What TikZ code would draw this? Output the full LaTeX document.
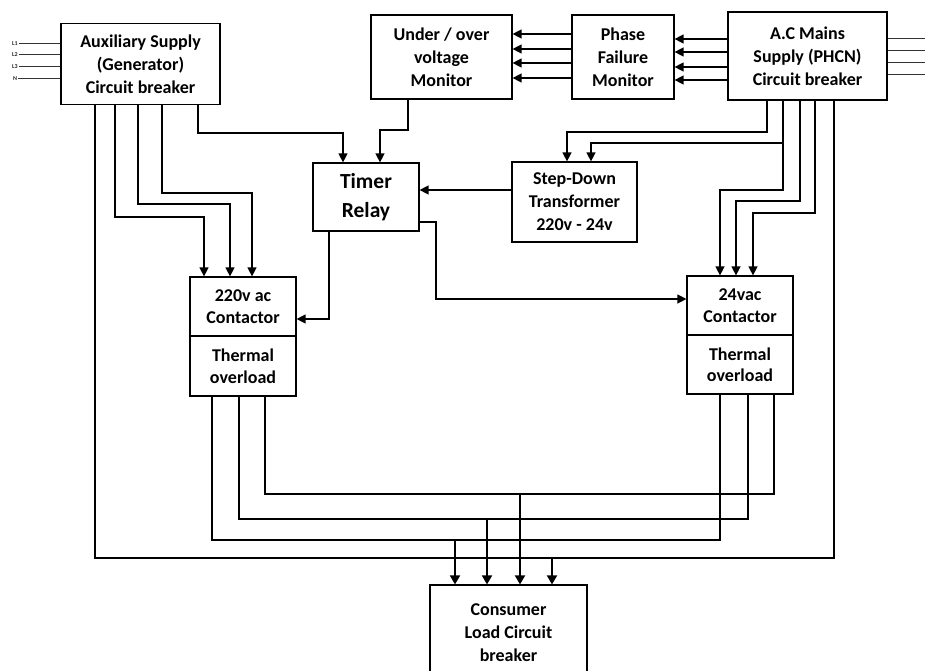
\documentclass[tikz,border=0pt]{standalone}
\usepackage{fontspec}
\setmainfont{Carlito}
\usetikzlibrary{arrows.meta}

\tikzset{
    box/.style={draw, line width=1.2pt, align=center, inner sep=0pt, font=\bfseries\fontsize{18}{23}\selectfont},
    wire/.style={line width=1.3pt},
    feed/.style={wire, -{Triangle[length=9pt, width=9pt]}},
    drop/.style={line width=2pt, -{Triangle[length=9pt, width=10pt]}},
    lead/.style={line width=1pt, black!80},
}

\begin{document}
\begin{tikzpicture}[x=1pt, y=-1pt]
    \useasboundingbox (0,0) rectangle (929,671);
    %Nodes
    \node[box, minimum width=159, minimum height=81] at (140.5, 64) (aux) {Auxiliary Supply\\(Generator)\\Circuit breaker};
    \node[box, minimum width=141, minimum height=84] at (441.5, 57) (uov) {Under / over\\voltage\\Monitor};
    \node[box, minimum width=102, minimum height=84] at (623, 57) (pfm) {Phase\\Failure\\Monitor};
    \node[box, minimum width=159, minimum height=88] at (807.5, 56) (acm) {A.C Mains\\Supply (PHCN)\\Circuit breaker};
    \node[box, minimum width=106, minimum height=68, font=\bfseries\fontsize{21.5}{29}\selectfont] at (366, 197) (tmr) {Timer\\Relay};
    \node[box, minimum width=125, minimum height=80] at (574.5, 202) (sdt) {Step-Down\\Transformer\\220v - 24v};
    \node[box, minimum width=106, minimum height=59, font=\bfseries\fontsize{18}{21.5}\selectfont] at (243, 306.5) (c220) {220v ac\\Contactor};
    \node[box, minimum width=106, minimum height=60, font=\bfseries\fontsize{18}{21.5}\selectfont] at (243, 366) (th220) {Thermal\\overload};
    \node[box, minimum width=106, minimum height=59, font=\bfseries\fontsize{18}{21.5}\selectfont] at (740, 305.5) (c24) {24vac\\Contactor};
    \node[box, minimum width=106, minimum height=59, font=\bfseries\fontsize{18}{21.5}\selectfont] at (740, 364.5) (th24) {Thermal\\overload};
    \node[box, minimum width=157, minimum height=96] at (508.5, 633) (load) {Consumer\\Load Circuit\\breaker};

    %Supply leads
    \foreach \lab/\yy in {L1/44, L2/55, L3/67, N/79} {
        \node[font=\bfseries\fontsize{6}{7}\selectfont, inner sep=1pt, text=black!85] at (15, \yy) (in\lab) {\lab};
        \draw[lead] (in\lab.east) -- (aux.west |- in\lab);
    }
    \foreach \i/\yy in {1/39, 2/51, 3/63, 4/75} {
        \coordinate (m\i) at (925, \yy);
        \draw[lead] (acm.east |- m\i) -- (m\i);
    }

    %Monitors
    \foreach \yy in {34, 49, 63, 78}
        \draw[feed] (pfm.west |- 0,\yy) -- (uov.east |- 0,\yy);
    \foreach \yy in {39, 52, 67, 80}
        \draw[feed] (acm.west |- 0,\yy) -- (pfm.east |- 0,\yy);

    %Timer relay
    \draw[feed] (aux.south -| 198,0) |- (343,133) -- (tmr.north -| 343,0);
    \draw[feed] (uov.south -| 408,0) |- (380,130) -- (tmr.north -| 380,0);
    \draw[feed] (sdt.west |- 0,190) -- (tmr.east |- 0,190);
    \draw[feed] (tmr.south -| 329,0) |- (c220.east |- 0,319);
    \draw[feed] (tmr.east |- 0,222) -| (436,299) -- (c24.west |- 0,299);

    %Contactor feeds
    \foreach \a/\b/\c in {115/217/204, 138/204/230, 162/193/252}
        \draw[feed] (aux.south -| \a,0) |- (\c,\b) -- (c220.north -| \c,0);
    \draw[feed] (acm.south -| 767,0) |- (567,132) -- (sdt.north -| 567,0);
    \draw[feed] (acm.south -| 783,0) |- (591,143) -- (sdt.north -| 591,0);
    \foreach \a/\b/\c in {783/190/720, 800/201/736, 815/213/753}
        \draw[feed] (acm.south -| \a,0) |- (\c,\b) -- (c24.north -| \c,0);

    %Load lines
    \draw[wire] (th220.south -| 212,0) |- (720,540) -- (th24.south -| 720,0);
    \draw[wire] (th220.south -| 239,0) |- (748,519) -- (th24.south -| 748,0);
    \draw[wire] (th220.south -| 265,0) |- (774,494) -- (th24.south -| 774,0);
    \draw[wire] (aux.south -| 95,0) |- (834,558) -- (acm.south -| 834,0);
    \foreach \xx/\yy [count=\k] in {455/540, 487/519, 520/494, 552/558} {
        \coordinate (j\k) at (\xx, \yy);
        \draw[drop] (j\k) -- (load.north -| j\k);
    }
\end{tikzpicture}
\end{document}
